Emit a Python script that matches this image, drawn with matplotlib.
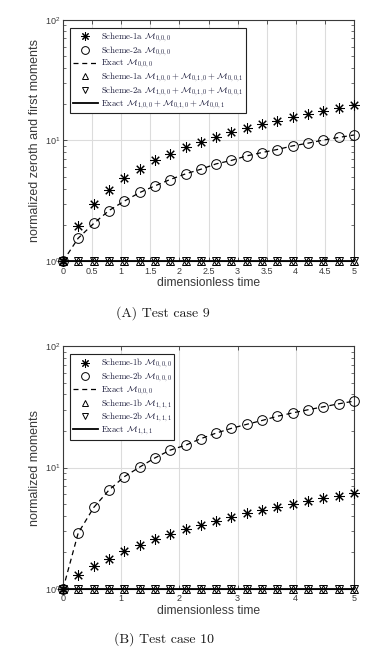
import numpy as np
import matplotlib
matplotlib.use('Agg')
import matplotlib.pyplot as plt
from matplotlib.ticker import LogLocator, NullFormatter, FixedLocator

plt.rcParams['font.family'] = ['Liberation Sans', 'DejaVu Sans']
plt.rcParams['mathtext.fontset'] = 'cm'

# time samples
t = [0.0, 0.26, 0.53, 0.79, 1.05, 1.32, 1.58, 1.84, 2.11, 2.37,
     2.63, 2.89, 3.16, 3.42, 3.68, 3.95, 4.21, 4.47, 4.74, 5.0]

# Test case 9
s1a_m000 = [1.0, 1.96, 2.95, 3.9, 4.87, 5.82, 6.83, 7.8, 8.8, 9.75,
            10.7, 11.65, 12.7, 13.6, 14.55, 15.6, 16.6, 17.6, 18.5, 19.5]
s2a_m000 = [1.0, 1.55, 2.06, 2.63, 3.14, 3.71, 4.21, 4.75, 5.3, 5.78,
            6.4, 6.83, 7.46, 7.95, 8.42, 9.03, 9.5, 10.07, 10.6, 11.1]
ex_a_m000 = s2a_m000
s1a_m1 = [1.0, 1.0, 1.0, 1.0, 1.0, 1.0, 1.0, 1.0, 1.0, 1.0,
          1.0, 1.0, 1.0, 1.0, 1.0, 1.0, 1.0, 1.0, 1.0, 1.0]
s2a_m1 = s1a_m1
ex_a_m1 = s1a_m1

# Test case 10
s1b_m000 = [1.0, 1.29, 1.53, 1.78, 2.07, 2.31, 2.59, 2.84, 3.1, 3.37,
            3.65, 3.94, 4.2, 4.47, 4.76, 5.04, 5.3, 5.57, 5.86, 6.16]
s2b_m000 = [1.0, 2.88, 4.7, 6.52, 8.38, 10.1, 12.0, 13.9, 15.3, 17.3,
            19.2, 21.0, 22.7, 24.4, 26.4, 28.2, 29.9, 31.6, 33.5, 35.2]
ex_b_m000 = s2b_m000
s1b_m111 = s1a_m1
s2b_m111 = s1a_m1
ex_b_m111 = s1a_m1

labels_a = [r'Scheme-1a $\mathcal{M}_{0,0,0}$',
            r'Scheme-2a $\mathcal{M}_{0,0,0}$',
            r'Exact $\mathcal{M}_{0,0,0}$',
            r'Scheme-1a $\mathcal{M}_{1,0,0}+\mathcal{M}_{0,1,0}+\mathcal{M}_{0,0,1}$',
            r'Scheme-2a $\mathcal{M}_{1,0,0}+\mathcal{M}_{0,1,0}+\mathcal{M}_{0,0,1}$',
            r'Exact $\mathcal{M}_{1,0,0}+\mathcal{M}_{0,1,0}+\mathcal{M}_{0,0,1}$']
labels_b = [r'Scheme-1b $\mathcal{M}_{0,0,0}$',
            r'Scheme-2b $\mathcal{M}_{0,0,0}$',
            r'Exact $\mathcal{M}_{0,0,0}$',
            r'Scheme-1b $\mathcal{M}_{1,1,1}$',
            r'Scheme-2b $\mathcal{M}_{1,1,1}$',
            r'Exact $\mathcal{M}_{1,1,1}$']

star = (8, 2, 0)
spine_col = '#3a3a3a'


def panel(ax, s1, s2, ex0, t1, t2, ex1, labels, xticks, xticklabels, ylabel):
    ax.plot(t, s1, linestyle='none', marker=star, ms=7.5, mew=0.75, color='k',
            label=labels[0], clip_on=False, zorder=4)
    ax.plot(t, s2, linestyle='none', marker='o', ms=7, mew=0.7, mfc='none',
            color='k', label=labels[1], clip_on=False, zorder=4)
    ax.plot(t, ex0, linestyle='--', dashes=(4, 3), lw=0.9, color='k',
            label=labels[2], zorder=3)
    ax.plot(t, t1, linestyle='none', marker='^', ms=6, mew=0.7, mfc='none',
            color='k', label=labels[3], clip_on=False, zorder=4)
    ax.plot(t, t2, linestyle='none', marker='v', ms=6, mew=0.7, mfc='none',
            color='k', label=labels[4], clip_on=False, zorder=4)
    ax.plot(t, ex1, linestyle='-', lw=1.3, color='k', label=labels[5],
            clip_on=False, zorder=3)

    ax.set_yscale('log')
    ax.set_xlim(0, 5)
    ax.set_ylim(1, 100)
    ax.xaxis.set_major_locator(FixedLocator(xticks))
    ax.set_xticklabels(xticklabels)
    ax.yaxis.set_major_locator(LogLocator(base=10, numticks=5))
    ax.yaxis.set_minor_locator(LogLocator(base=10, subs=np.arange(2, 10), numticks=20))
    ax.yaxis.set_minor_formatter(NullFormatter())
    ax.tick_params(which='both', direction='in', top=True, right=True,
                   labelsize=6.5, colors=spine_col)
    ax.tick_params(axis='x', pad=4)
    ax.tick_params(axis='y', pad=2)
    ax.tick_params(which='major', length=3, width=0.6)
    ax.tick_params(which='minor', length=2, width=0.5)
    ax.grid(True, which='major', color='#dcdcdc', lw=0.8)
    ax.set_axisbelow(True)
    for sp in ax.spines.values():
        sp.set_color(spine_col)
        sp.set_linewidth(0.8)
    ax.set_xlabel('dimensionless time', fontsize=8.7, color=spine_col, labelpad=1)
    ax.set_ylabel(ylabel, fontsize=9, color=spine_col, labelpad=3)

    leg = ax.legend(loc='upper left', bbox_to_anchor=(0.024, 0.967),
                    prop={'family': 'cmr10', 'size': 6.3},
                    handlelength=2.9, handletextpad=0.3, labelspacing=0.0,
                    borderpad=0.3, borderaxespad=0.0, fancybox=False,
                    markerscale=0.8, framealpha=1, edgecolor='#222222')
    leg.get_frame().set_linewidth(0.8)
    for txt in leg.get_texts():
        txt.set_color('#1c1c3c')


fig = plt.figure(figsize=(3.89, 6.58), dpi=100)
ax1 = fig.add_axes([0.162, 0.603, 0.748, 0.367])
ax2 = fig.add_axes([0.162, 0.105, 0.748, 0.369])

panel(ax1, s1a_m000, s2a_m000, ex_a_m000, s1a_m1, s2a_m1, ex_a_m1, labels_a,
      [0, 0.5, 1, 1.5, 2, 2.5, 3, 3.5, 4, 4.5, 5],
      ['0', '0.5', '1', '1.5', '2', '2.5', '3', '3.5', '4', '4.5', '5'],
      'normalized zeroth and first moments')
panel(ax2, s1b_m000, s2b_m000, ex_b_m000, s1b_m111, s2b_m111, ex_b_m111, labels_b,
      [0, 1, 2, 3, 4, 5], ['0', '1', '2', '3', '4', '5'],
      'normalized moments')

fig.text(0.419, 1 - 313 / 658, '(A) Test case 9', family='cmr10', fontsize=10,
         ha='center', va='center', color='#1a1a1a')
fig.text(0.422, 1 - 639 / 658, '(B) Test case 10', family='cmr10', fontsize=10,
         ha='center', va='center', color='#1a1a1a')

fig.savefig('out.png', dpi=100)
